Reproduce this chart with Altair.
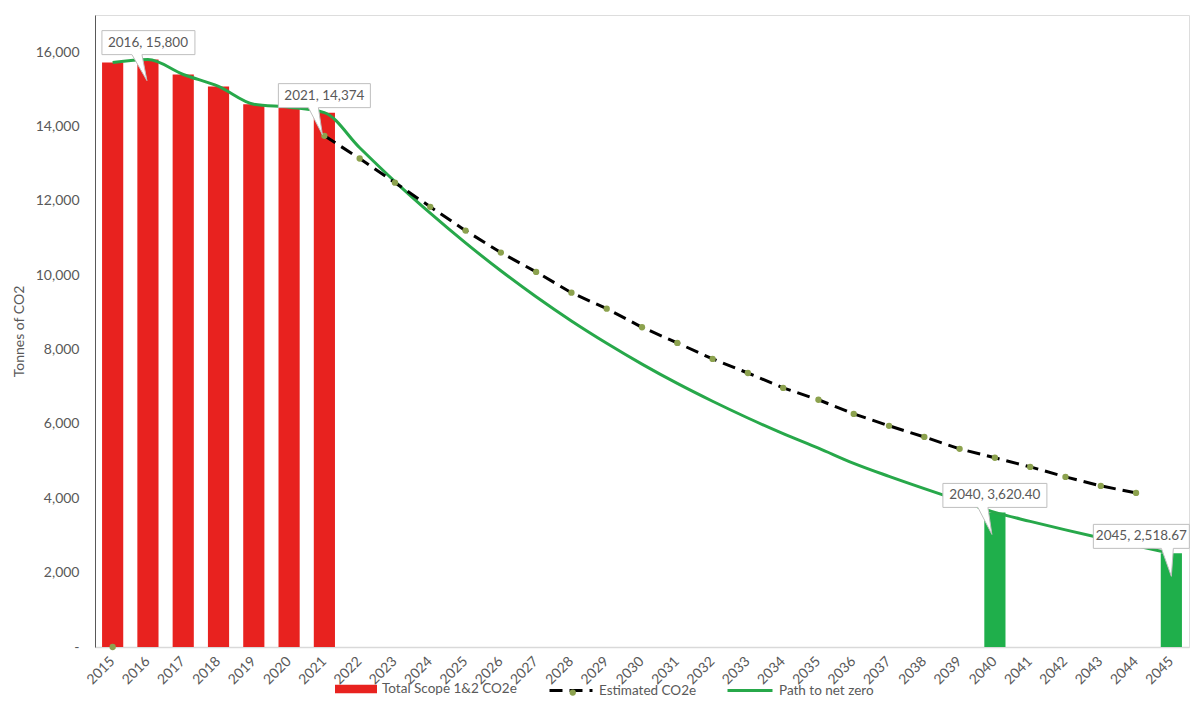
import altair as alt
import pandas as pd

# ---------------- data ----------------
years = ["2015", "2016", "2017", "2018", "2019", "2020", "2021", "2022", "2023",
         "2024", "2025", "2026", "2027", "2028", "2029", "2030", "2031", "2032",
         "2033", "2034", "2035", "2036", "2037", "2038", "2039", "2040", "2041",
         "2042", "2043", "2044", "2045"]

bar_years = ["2015", "2016", "2017", "2018", "2019", "2020", "2021"]
bar_values = [15720, 15800, 15400, 15080, 14600, 14520, 14374]

green_bar_years = ["2040", "2045"]
green_bar_values = [3620.40, 2518.67]

est_years = ["2021", "2022", "2023", "2024", "2025", "2026", "2027", "2028",
             "2029", "2030", "2031", "2032", "2033", "2034", "2035", "2036",
             "2037", "2038", "2039", "2040", "2041", "2042", "2043", "2044"]
est_values = [13750, 13140, 12490, 11840, 11200, 10610, 10090, 9530,
              9100, 8600, 8180, 7750, 7370, 6970, 6650, 6270,
              5950, 5650, 5330, 5090, 4845, 4576, 4334, 4145]
est_marker_years = ["2015"]
est_marker_values = [0]

path_values = [15720, 15800, 15400, 15080, 14600, 14520, 14374, 13430, 12520,
               11670, 10870, 10120, 9420, 8770, 8170, 7610, 7090, 6610,
               6160, 5740, 5350, 4940, 4590, 4260, 3940, 3620.40, 3380,
               3150, 2930, 2720, 2518.67]

callout_years = ["2016", "2021", "2040", "2045"]
callout_values = [15800, 14374, 3620.40, 2518.67]
callout_labels = ["2016, 15,800", "2021, 14,374", "2040, 3,620.40", "2045, 2,518.67"]

y_ticks = [0, 2000, 4000, 6000, 8000, 10000, 12000, 14000, 16000]

series_bar = "Total Scope 1&2 CO2e"
series_est = "Estimated CO2e"
series_path = "Path to net zero"

# ---------------- styles ----------------
RED = "#E8221F"
GREEN_BAR = "#1FAF4B"
GREEN_LINE = "#27A84A"
OLIVE = "#8CA24E"
TEXT = "#595959"
FONT = "Lato"

bar_df = pd.DataFrame({"year": bar_years, "value": bar_values, "series": series_bar})
gbar_df = pd.DataFrame({"year": green_bar_years, "value": green_bar_values})
est_df = pd.DataFrame({"year": est_years, "value": est_values, "series": series_est})
est_pts_df = pd.DataFrame({"year": est_marker_years + est_years,
                           "value": est_marker_values + est_values, "dot": "dot"})
path_df = pd.DataFrame({"year": years, "value": path_values, "series": series_path})
call_df = pd.DataFrame({"year": callout_years, "value": callout_values, "label": callout_labels})

xscale = alt.Scale(type="band", domain=years, paddingInner=0.4, paddingOuter=0.2)
yscale = alt.Scale(domain=[0, 17000], nice=False, zero=True)

xaxis = alt.Axis(labelAngle=315, labelAlign="right", labelBaseline="middle",
                 ticks=False, tickSize=0, grid=False, domainColor="#D9D9D9",
                 domainWidth=1.5, labelPadding=12, labelFont=FONT, labelFontSize=14,
                 labelColor=TEXT, title=None, labelOverlap=False)
yaxis = alt.Axis(values=y_ticks,
                 labelExpr="datum.value == 0 ? '-' : format(datum.value, ',')",
                 ticks=False, tickSize=0, grid=False, domain=True, domainColor="#595959",
                 labelPadding=16, labelFont=FONT, labelFontSize=14, labelColor=TEXT,
                 title="Tonnes of CO2", titleFont=FONT, titleFontSize=14,
                 titleFontWeight="normal", titleColor=TEXT, titleX=-76, titleY=316,
                 titleAngle=270, titleAlign="center", titleBaseline="middle")


def X():
    return alt.X("year:N", scale=xscale, sort=None, axis=xaxis)


def Y():
    return alt.Y("value:Q", scale=yscale, axis=yaxis)


legend_common = dict(orient="none", title=None, padding=0, labelFont=FONT,
                     labelFontSize=13.5, labelColor=TEXT, labelOffset=5,
                     direction="horizontal")
LEG_C = 674  # legend row centre, relative to plot top

bars = alt.Chart(bar_df).mark_bar().encode(
    x=X(), y=Y(),
    fill=alt.Fill("series:N", scale=alt.Scale(domain=[series_bar], range=[RED]),
                  legend=alt.Legend(legendX=240, legendY=LEG_C - 21,
                                    symbolType="M-1,-0.2L1,-0.2L1,0.2L-1,0.2Z",
                                    symbolSize=1764, symbolStrokeWidth=0,
                                    symbolFillColor=RED, **legend_common)),
)

green_bars = alt.Chart(gbar_df).mark_bar(color=GREEN_BAR).encode(x=X(), y=Y())

path_line = alt.Chart(path_df).mark_line(strokeWidth=3, interpolate="monotone").encode(
    x=X(), y=Y(),
    stroke=alt.Stroke("series:N", scale=alt.Scale(domain=[series_path], range=[GREEN_LINE]),
                      legend=alt.Legend(legendX=631, legendY=LEG_C - 22.5, symbolType="stroke",
                                        symbolSize=2025, symbolStrokeWidth=3,
                                        **legend_common)),
)

est_line = alt.Chart(est_df).mark_line(strokeWidth=3, color="black").encode(
    x=X(), y=Y(),
    strokeDash=alt.StrokeDash("series:N",
                              scale=alt.Scale(domain=[series_est], range=[[13, 7]]),
                              legend=alt.Legend(legendX=453, legendY=LEG_C - 21.5,
                                                symbolType="stroke", symbolSize=1849,
                                                symbolStrokeWidth=3,
                                                symbolStrokeColor="black",
                                                symbolDash=[16, 11], **legend_common)),
)

est_pts = alt.Chart(est_pts_df).mark_point(filled=True, size=40, opacity=1).encode(
    x=X(), y=Y(), color=alt.value(OLIVE),
    shape=alt.Shape("dot:N", scale=alt.Scale(domain=["dot"], range=["circle"]),
                    legend=alt.Legend(legendX=471, legendY=LEG_C - 3.2, labelExpr="''",
                                      symbolSize=40, symbolFillColor=OLIVE,
                                      symbolStrokeColor=OLIVE, symbolOpacity=1,
                                      **legend_common)),
)

# callout bubbles: box (left, right, top, bottom), tail (base left, base right, tip x, tip y)
callout_style = {
    "2016": dict(box=(-46, 47, -29, -5), tail=(-16, -6, -1, 21), dx=0),
    "2021": dict(box=(-46, 46, -29, -5), tail=(-16, -6, -2, 22), dx=0),
    "2040": dict(box=(-52, 52, -29, -5), tail=(-17, -7, -3, 22), dx=0),
    "2045": dict(box=(-78, 18, -29, -5), tail=(-10, 2, 0, 23), dx=-30),
}


def callout_path(box, tail, s=100.0):
    l, r, t, b = box
    bl, br, tx, ty = tail
    pts = [(l, t), (r, t), (r, b), (br, b), (tx, ty), (bl, b), (l, b)]
    d = "M" + "L".join(f"{x / s:.3f},{y / s:.3f}" for x, y in pts) + "Z"
    return d


callout_layers = []
for yr in callout_years:
    st = callout_style[yr]
    sub = alt.Chart(call_df).transform_filter(alt.datum.year == yr)
    box = sub.mark_point(shape=callout_path(st["box"], st["tail"]), size=40000,
                         filled=True, fill="white", stroke="#BFBFBF",
                         strokeWidth=1, opacity=1).encode(x=X(), y=Y())
    txt = sub.mark_text(font=FONT, fontSize=13.5, color=TEXT, align="center",
                        baseline="middle", dx=st["dx"], dy=-17).encode(
        x=X(), y=Y(), text="label:N")
    callout_layers += [box, txt]

chart = alt.layer(bars, green_bars, path_line, est_line, est_pts, *callout_layers).resolve_legend(
    fill="independent", stroke="independent", strokeDash="independent", shape="independent"
).properties(
    width=1094, height=632,
    autosize=alt.AutoSizeParams(type="none"),
    padding={"left": 87, "top": 7, "right": 1, "bottom": 60},
    background="white",
).configure_view(stroke="#595959", strokeWidth=1).configure(font=FONT)

chart.save("out.html", embed_options={"renderer": "svg", "actions": False})
